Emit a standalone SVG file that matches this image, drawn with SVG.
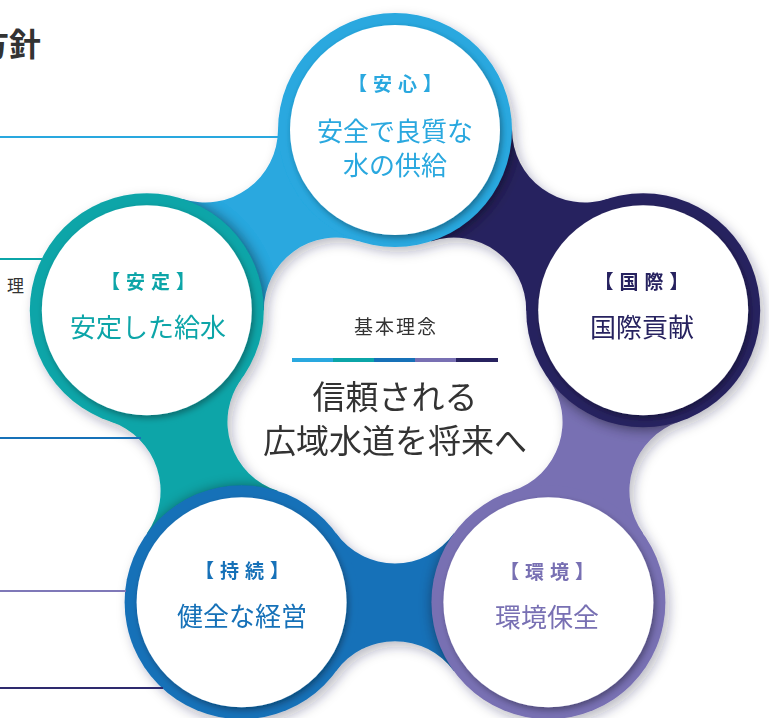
<svg xmlns="http://www.w3.org/2000/svg" width="769" height="718" viewBox="0 0 769 718">
<style>
text { font-family: "Noto Sans CJK JP", "Noto Sans", sans-serif; text-anchor: middle; }
.lbl { font-size: 26px; }
.brk { font-size: 19px; font-weight: 700; letter-spacing: 6px; }
.c1 { fill: #29a8df; } .c2 { fill: #0ba5a8; } .c3 { fill: #1671b8; } .c4 { fill: #7870b3; } .c5 { fill: #27225f; }
.ring { stroke: none; }
.inner { fill: #ffffff; filter: url(#wsh); }
.shd { fill: #000; opacity: 0.5; filter: url(#blur); }
.core { fill: #333333; }
.lead { stroke-width: 2; fill: none; }
</style>
<defs>
<filter id="outer" x="-10%" y="-10%" width="120%" height="120%">
<feDropShadow dx="4" dy="5" stdDeviation="6" flood-color="#202040" flood-opacity="0.3"/>
</filter>
<filter id="wsh" x="-15%" y="-15%" width="130%" height="130%">
<feDropShadow dx="2" dy="3" stdDeviation="3" flood-color="#000" flood-opacity="0.35"/>
</filter>
<filter id="blur" x="-20%" y="-20%" width="140%" height="140%">
<feGaussianBlur stdDeviation="7"/>
</filter>
<path id="bTR" d="M 512.0 129.8 A 72.9 72.9 0 0 0 607.3 199.0 L 643.2 310.3 L 526.2 310.2 A 72.4 72.4 0 0 0 431.3 241.2 L 395 130 Z"/>
<path id="bRB" d="M 679.6 421.6 A 72.9 72.9 0 0 0 643.2 533.5 L 548.4 602.2 L 512.4 490.8 A 72.4 72.4 0 0 0 548.7 379.3 L 643.2 310.3 Z"/>
<path id="bBB" d="M 453.9 671.1 A 72.9 72.9 0 0 0 336.1 671.1 L 241.6 602.2 L 336.3 533.5 A 72.4 72.4 0 0 0 453.7 533.5 L 548.4 602.2 Z"/>
<path id="bBL" d="M 146.8 533.5 A 72.9 72.9 0 0 0 110.4 421.6 L 146.8 310.3 L 241.3 379.3 A 72.4 72.4 0 0 0 277.6 490.8 L 241.6 602.2 Z"/>
<path id="bLT" d="M 182.7 199.0 A 72.9 72.9 0 0 0 278.0 129.8 L 395 130 L 358.7 241.2 A 72.4 72.4 0 0 0 263.8 310.2 L 146.8 310.3 Z"/>
<clipPath id="kTR"><use href="#bTR"/></clipPath>
<clipPath id="kRB"><use href="#bRB"/></clipPath>
<clipPath id="kBB"><use href="#bBB"/></clipPath>
<clipPath id="kBL"><use href="#bBL"/></clipPath>
<clipPath id="kLT"><use href="#bLT"/></clipPath>
</defs>
<rect width="769" height="718" fill="#ffffff"/>
<text x="-23" y="56" style="font-size:32px;font-weight:700;text-anchor:start;fill:#333">方針</text>
<text x="7" y="292" style="font-size:17px;text-anchor:start;fill:#333">理</text>
<g filter="url(#outer)">
<g id="connectors">
<use href="#bTR" class="c5"/>
<use href="#bRB" class="c4"/>
<use href="#bBB" class="c3"/>
<use href="#bBL" class="c2"/>
<use href="#bLT" class="c1"/>
</g>
<g id="node-anshin">
<circle class="shd" cx="397" cy="132" r="117" clip-path="url(#kTR)"/>
<circle class="ring c1" cx="395" cy="130" r="117"/>
<circle class="inner" cx="395" cy="130" r="105"/>
<text class="brk c1" x="398" y="91">【安心】</text>
<text class="lbl c1" x="395" y="141">安全で良質な</text>
<text class="lbl c1" x="395" y="175">水の供給</text>
</g>
<g id="node-kokusai">
<circle class="shd" cx="645" cy="312" r="117" clip-path="url(#kRB)"/>
<circle class="ring c5" cx="643.2" cy="310.3" r="117"/>
<circle class="inner" cx="643.2" cy="310.3" r="105"/>
<text class="brk c5" x="644.5" y="289">【国際】</text>
<text class="lbl c5" x="642" y="337">国際貢献</text>
</g>
<g id="node-kankyo">
<circle class="shd" cx="550" cy="604" r="117" clip-path="url(#kBB)"/>
<circle class="ring c4" cx="548.4" cy="602.2" r="117"/>
<circle class="inner" cx="548.4" cy="602.2" r="105"/>
<text class="brk c4" x="550" y="579">【環境】</text>
<text class="lbl c4" x="547" y="627">環境保全</text>
</g>
<g id="node-jizoku">
<circle class="shd" cx="243.5" cy="604" r="117" clip-path="url(#kBL)"/>
<circle class="ring c3" cx="241.6" cy="602.2" r="117"/>
<circle class="inner" cx="241.6" cy="602.2" r="105"/>
<text class="brk c3" x="245" y="578">【持続】</text>
<text class="lbl c3" x="242" y="626">健全な経営</text>
</g>
<g id="node-antei">
<circle class="shd" cx="149" cy="312" r="117" clip-path="url(#kLT)"/>
<circle class="ring c2" cx="146.8" cy="310.3" r="117"/>
<circle class="inner" cx="146.8" cy="310.3" r="105"/>
<text class="brk c2" x="151" y="289">【安定】</text>
<text class="lbl c2" x="148" y="337">安定した給水</text>
</g>
</g>
<g id="core">
<text class="core" x="396" y="334" style="font-size:19px;letter-spacing:2px">基本理念</text>
<rect x="292" y="358" width="42" height="4" fill="#29a8df"/>
<rect x="333" y="358" width="42" height="4" fill="#0ba5a8"/>
<rect x="374" y="358" width="42" height="4" fill="#1671b8"/>
<rect x="415" y="358" width="42" height="4" fill="#7870b3"/>
<rect x="456" y="358" width="42" height="4" fill="#27225f"/>
<text class="core" x="395" y="409" style="font-size:33px">信頼される</text>
<text class="core" x="395" y="453" style="font-size:33px">広域水道を将来へ</text>
</g>
<g id="leaders">
<line class="lead" x1="0" y1="137" x2="278" y2="137" stroke="#29a8df"/>
<line class="lead" x1="0" y1="259" x2="42" y2="259" stroke="#0ba5a8"/>
<line class="lead" x1="0" y1="438" x2="141" y2="438" stroke="#1671b8"/>
<line class="lead" x1="0" y1="591" x2="126" y2="591" stroke="#7f78b8"/>
<line class="lead" x1="0" y1="688" x2="163" y2="688" stroke="#2e2a6e"/>
</g>
</svg>
